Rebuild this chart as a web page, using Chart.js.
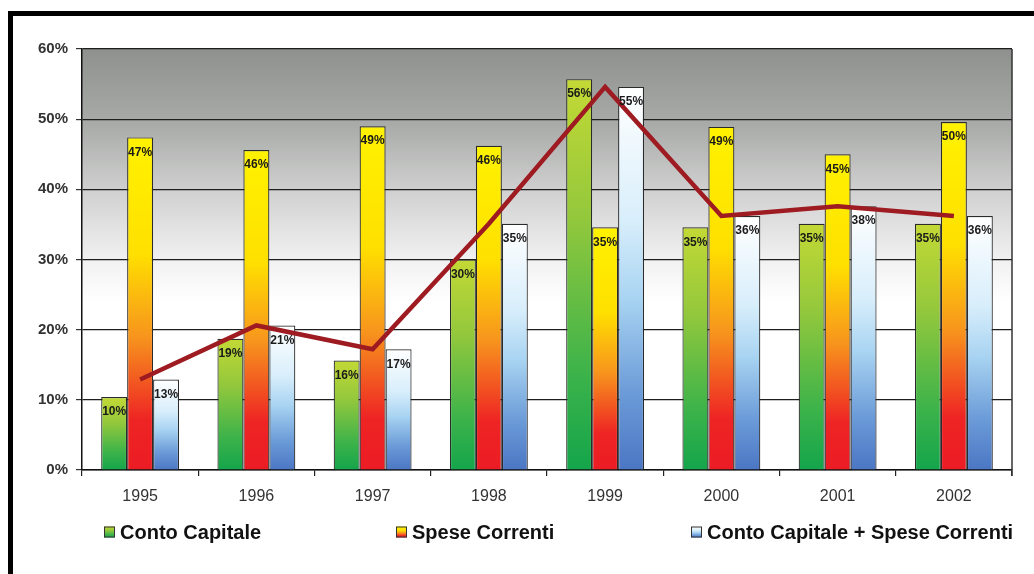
<!DOCTYPE html>
<html>
<head>
<meta charset="utf-8">
<title>Conto Capitale e Spese Correnti 1995-2002</title>
<script src="https://cdn.jsdelivr.net/npm/chart.js@4.4.1/dist/chart.umd.min.js"></script>
<style>
  html, body { margin: 0; padding: 0; background: #ffffff; }
  #wrap { width: 1034px; height: 574px; position: relative; }
  canvas { display: block; }
</style>
</head>
<body>
<div id="wrap"><canvas id="chart" width="1034" height="574"></canvas></div>
<script>
// Years on the category axis
const years = ['1995', '1996', '1997', '1998', '1999', '2000', '2001', '2002'];

// Percentages per year
const contoCapitale = [10.4, 18.7, 15.6, 30.0, 55.7, 34.6, 35.1, 35.1];
const speseCorrenti = [47.4, 45.6, 49.0, 46.2, 34.6, 48.9, 45.0, 49.6];
const totale        = [12.9, 20.6, 17.2, 35.1, 54.6, 36.2, 37.6, 36.2];

// Value axis
const yTickValues = [0, 10, 20, 30, 40, 50, 60];
const yTickLabels = ['0%', '10%', '20%', '30%', '40%', '50%', '60%'];

// Legend entries
const legendLabels = ['Conto Capitale', 'Spese Correnti', 'Conto Capitale + Spese Correnti'];

const FONT = '"Liberation Sans", Arial, Helvetica, sans-serif';

// Colour ramps, top of bar -> base of bar
const greenStops  = [[0, '#c3d935'], [0.35, '#94c83c'], [0.75, '#3db34a'], [1, '#14a54b']];
const orangeStops = [[0, '#fff200'], [0.35, '#ffe000'], [0.6, '#f7941d'], [0.85, '#ee2424'], [1, '#ec1c24']];
const blueStops   = [[0, '#ffffff'], [0.35, '#d8eefb'], [0.55, '#a9d4f2'], [0.8, '#6b9bd8'], [1, '#4b76c4']];

function rampFill(stops) {
  return (c) => {
    const chart = c.chart;
    const y = chart.scales && chart.scales.y;
    if (!chart.chartArea || !y || c.raw == null) return stops[Math.floor(stops.length / 2)][1];
    const top = y.getPixelForValue(c.raw);
    const base = y.getPixelForValue(0);
    const g = chart.ctx.createLinearGradient(0, top, 0, base);
    stops.forEach(s => g.addColorStop(s[0], s[1]));
    return g;
  };
}

// Page frame and plot-area backdrop
const backdrop = {
  id: 'backdrop',
  beforeDraw(chart) {
    const { ctx, chartArea: a } = chart;
    ctx.save();
    ctx.fillStyle = '#ffffff';
    ctx.fillRect(0, 0, chart.width, chart.height);
    // heavy black frame on left and top
    ctx.fillStyle = '#000000';
    ctx.fillRect(8, 11, chart.width, 5);
    ctx.fillRect(8, 11, 5, chart.height);
    // grey-to-white wash behind the bars
    const g = ctx.createLinearGradient(0, a.top, 0, a.bottom);
    g.addColorStop(0, '#8e918e');
    g.addColorStop(0.18, '#a9aba9');
    g.addColorStop(0.34, '#d0d1d0');
    g.addColorStop(0.5, '#f1f1f1');
    g.addColorStop(0.6, '#ffffff');
    g.addColorStop(1, '#ffffff');
    ctx.fillStyle = g;
    ctx.fillRect(a.left, a.top, a.right - a.left, a.bottom - a.top);
    ctx.restore();
  },
  afterDatasetsDraw(chart) {
    const { ctx, chartArea: a } = chart;
    ctx.save();
    ctx.strokeStyle = '#333333';
    ctx.lineWidth = 1.5;
    ctx.beginPath();
    ctx.moveTo(a.right, a.top);
    ctx.lineTo(a.right, a.bottom + 6);
    ctx.stroke();
    ctx.restore();
  }
};

// Percent labels just inside the top of every bar
const barValues = {
  id: 'barValues',
  afterDatasetsDraw(chart) {
    const { ctx } = chart;
    ctx.save();
    ctx.font = 'bold 12px ' + FONT;
    ctx.fillStyle = '#1a1a1a';
    ctx.textAlign = 'center';
    ctx.textBaseline = 'middle';
    chart.data.datasets.forEach((ds, i) => {
      if (ds.type === 'line') return;
      const meta = chart.getDatasetMeta(i);
      meta.data.forEach((el, j) => {
        ctx.fillText(Math.round(ds.data[j]) + '%', el.x, el.y + 15);
      });
    });
    ctx.restore();
  }
};

// Legend row under the year labels
const legendRow = {
  id: 'legendRow',
  afterDraw(chart) {
    const { ctx } = chart;
    const xs = [104, 396, 691];
    const rampSets = [greenStops, orangeStops, blueStops];
    const yMid = 532;
    ctx.save();
    ctx.font = 'bold 20px ' + FONT;
    ctx.textBaseline = 'middle';
    ctx.textAlign = 'left';
    legendLabels.forEach((label, i) => {
      const x = xs[i], s = 11;
      const g = ctx.createLinearGradient(0, yMid - s / 2, 0, yMid + s / 2);
      rampSets[i].forEach(st => g.addColorStop(st[0], st[1]));
      ctx.fillStyle = g;
      ctx.fillRect(x, yMid - s / 2, s, s);
      ctx.strokeStyle = '#333333';
      ctx.lineWidth = 1;
      ctx.strokeRect(x + 0.5, yMid - s / 2 + 0.5, s - 1, s - 1);
      ctx.fillStyle = '#111111';
      ctx.fillText(label, x + 16, yMid + 1);
    });
    ctx.restore();
  }
};

const barBorder = '#2b2b2b';

new Chart(document.getElementById('chart'), {
  data: {
    labels: years,
    datasets: [
      {
        type: 'line',
        label: 'Andamento',
        data: totale,
        borderColor: '#9e1b22',
        borderWidth: 4.5,
        pointRadius: 0,
        fill: false,
        tension: 0,
        borderJoinStyle: 'miter',
        order: 0
      },
      {
        type: 'bar',
        label: legendLabels[0],
        data: contoCapitale,
        backgroundColor: rampFill(greenStops),
        borderColor: barBorder,
        borderWidth: 1.2,
        order: 1
      },
      {
        type: 'bar',
        label: legendLabels[1],
        data: speseCorrenti,
        backgroundColor: rampFill(orangeStops),
        borderColor: barBorder,
        borderWidth: 1.2,
        order: 1
      },
      {
        type: 'bar',
        label: legendLabels[2],
        data: totale,
        backgroundColor: rampFill(blueStops),
        borderColor: barBorder,
        borderWidth: 1.2,
        order: 1
      }
    ]
  },
  options: {
    responsive: false,
    animation: false,
    devicePixelRatio: 1,
    layout: { padding: { left: 0, right: 22, top: 49, bottom: 0 } },
    datasets: {
      bar: { categoryPercentage: 0.67, barPercentage: 1.0 }
    },
    plugins: {
      legend: { display: false },
      tooltip: { enabled: false },
      title: { display: false }
    },
    scales: {
      x: {
        offset: true,
        grid: {
          display: true,
          offset: true,
          drawOnChartArea: false,
          drawTicks: true,
          tickLength: 6,
          color: '#222222',
          lineWidth: 1.2
        },
        border: { display: true, color: '#111111', width: 1.5 },
        ticks: {
          color: '#333333',
          font: { family: FONT, size: 16 },
          padding: 11
        },
        afterFit(scale) { scale.height = 104; }
      },
      y: {
        min: 0,
        max: 60,
        afterBuildTicks(scale) {
          scale.ticks = yTickValues.map(v => ({ value: v }));
        },
        grid: {
          color: '#1e1e1e',
          lineWidth: 1.2,
          drawTicks: true,
          tickLength: 6,
          tickColor: '#333333'
        },
        border: { display: true, color: '#111111', width: 1.5 },
        ticks: {
          color: '#333333',
          font: { family: FONT, size: 15, weight: 'bold' },
          padding: 8,
          callback: (v) => yTickLabels[yTickValues.indexOf(v)]
        },
        afterFit(scale) { scale.width = 82; }
      }
    }
  },
  plugins: [backdrop, barValues, legendRow]
});
</script>
</body>
</html>
